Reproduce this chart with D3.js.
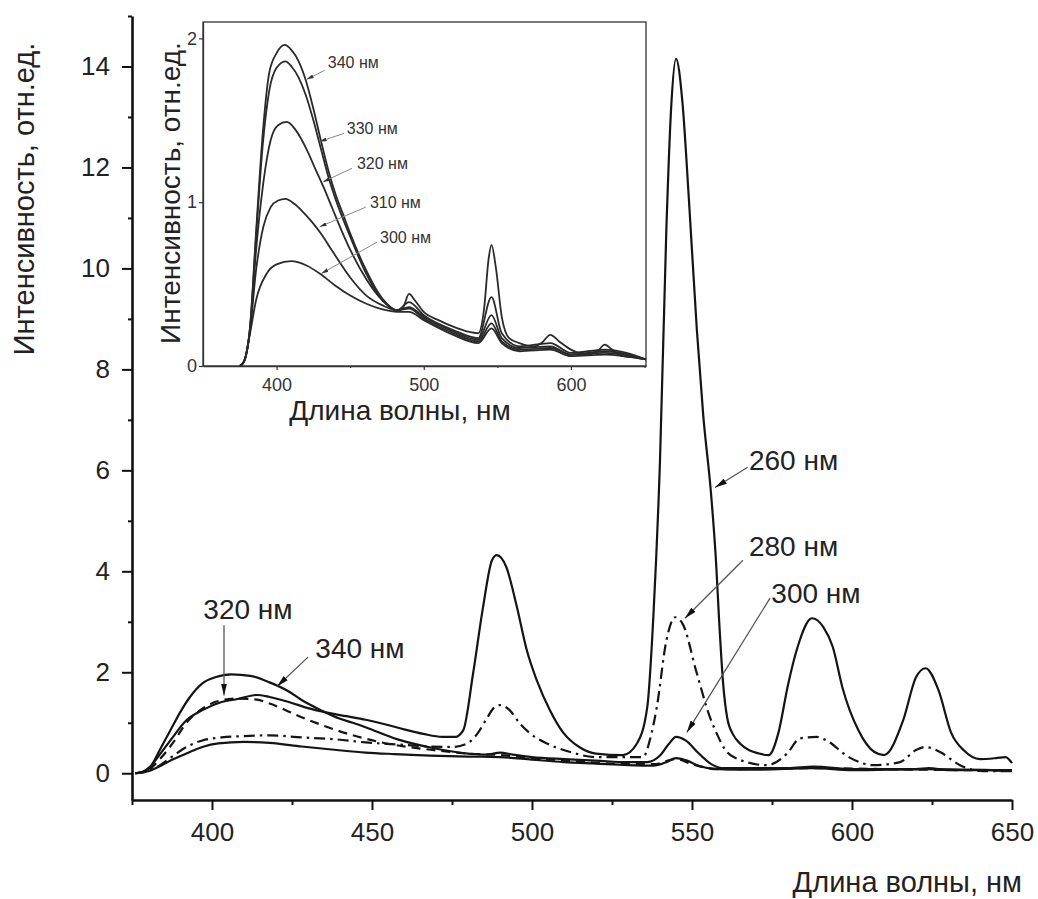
<!DOCTYPE html>
<html>
<head>
<meta charset="utf-8">
<script src="https://cdn.jsdelivr.net/npm/d3@7"></script>
<style>
  body { margin: 0; background: #fff; }
  text { font-family: "Liberation Sans", Arial, Helvetica, sans-serif; }
</style>
</head>
<body>
<div id="vis"></div>
<script>
// main plot: emission spectra, excitation 260..340 nm
var main260 = [[376,0],[378,0.02],[381,0.15],[384,0.4],[387,0.65],[392,1.05],[397,1.25],[403,1.41],[408,1.47],[414,1.55],[418,1.51],[424,1.41],[430,1.29],[436,1.2],[442,1.13],[448,1.06],[454,0.97],[460,0.87],[466,0.78],[472,0.72],[476,0.72],[478.5,0.85],[481.6,1.98],[484.7,3.29],[487.5,4.22],[489,4.32],[492,4.08],[495.3,3.29],[498.4,2.43],[501.5,1.84],[505.6,1.25],[509.7,0.81],[515,0.51],[520,0.39],[528.4,0.36],[532.8,0.59],[536,1.3],[538,3.2],[540,6.2],[542,10.8],[543.5,13.2],[545,14.15],[547,13.3],[549,11.4],[551.5,8.8],[553.5,7.1],[556,5.5],[557.5,4.2],[558.5,3.0],[559.7,1.8],[561,1.1],[563,0.75],[565,0.59],[571,0.39],[574,0.36],[577,0.8],[580,1.75],[583,2.5],[587.5,3.07],[591,2.9],[594,2.5],[597,1.7],[602,0.85],[607,0.42],[610,0.36],[616,1.05],[620,1.9],[623,2.08],[627,1.65],[631,0.8],[635,0.45],[640,0.28],[645,0.3],[648,0.32],[650,0.2]];
var main280 = [[376,0],[380,0.04],[384,0.17],[388,0.35],[392,0.52],[397,0.65],[403,0.71],[408,0.73],[418,0.75],[428,0.71],[439,0.67],[448,0.61],[458,0.57],[468,0.53],[475,0.52],[480,0.6],[483,0.79],[486,1.1],[488,1.29],[490,1.35],[493,1.25],[496,1.0],[499.4,0.79],[504.7,0.59],[512,0.42],[520,0.32],[534.7,0.32],[537,0.7],[539,1.31],[542,2.63],[544.7,3.09],[547,2.97],[551.5,1.98],[555.6,1.11],[558,0.75],[560,0.5],[563,0.32],[573.4,0.16],[579.7,0.39],[583.75,0.69],[589,0.72],[592,0.65],[599,0.32],[606.6,0.16],[615,0.22],[620,0.46],[623,0.52],[627.5,0.42],[633.75,0.16],[641,0.04],[650,0.04]];
var main300 = [[376,0],[380,0.04],[384,0.15],[388,0.28],[392,0.39],[397,0.52],[402,0.59],[410,0.62],[418,0.6],[428,0.53],[439,0.46],[448,0.41],[457,0.38],[468,0.35],[480,0.33],[490,0.32],[500,0.27],[510,0.22],[520,0.19],[530,0.16],[538,0.15],[542,0.22],[545,0.3],[548,0.26],[552,0.15],[558,0.08],[570,0.07],[588,0.1],[600,0.06],[623,0.08],[650,0.05]];
var main320 = [[376,0],[380,0.06],[384,0.3],[388,0.62],[392,1.0],[397,1.28],[402,1.43],[408,1.48],[414,1.46],[418,1.38],[428,1.11],[439,0.85],[447,0.7],[453,0.61],[469,0.46],[480,0.39],[490,0.36],[500,0.3],[515,0.23],[530,0.18],[538,0.18],[545,0.28],[550,0.18],[558,0.08],[588,0.1],[623,0.07],[650,0.05]];
var main340 = [[376,0],[378,0.02],[381,0.15],[384,0.5],[387,0.85],[390,1.2],[393,1.5],[397,1.78],[401,1.9],[406,1.96],[412,1.93],[418,1.8],[424,1.62],[428,1.45],[434,1.25],[440,1.08],[444,1.0],[448,0.91],[458,0.67],[469,0.5],[480,0.39],[486,0.37],[490,0.41],[494,0.37],[500,0.32],[510,0.28],[520,0.25],[530,0.22],[536,0.22],[540,0.35],[543,0.6],[545,0.72],[548,0.65],[552,0.4],[556,0.18],[560,0.1],[580,0.1],[588,0.13],[600,0.08],[620,0.08],[624,0.1],[630,0.06],[650,0.06]];

// inset: excitation 300..340 nm
var ins300 = [[375,0],[378,0.03],[382,0.2],[386,0.4],[393,0.56],[400,0.62],[410,0.64],[420,0.615],[430,0.56],[440,0.49],[450,0.43],[461,0.38],[472,0.345],[482,0.33],[490,0.33],[500,0.28],[520,0.19],[537,0.14],[546,0.23],[553,0.14],[565,0.09],[586,0.1],[600,0.06],[623,0.07],[651,0.04]];
var ins310 = [[375,0],[378,0.03],[382,0.22],[386,0.58],[391,0.85],[396,0.97],[401,1.01],[406,1.02],[412,0.99],[418,0.94],[424,0.88],[430,0.81],[438,0.7],[450,0.54],[461,0.43],[472,0.37],[482,0.34],[490,0.35],[500,0.29],[520,0.2],[537,0.15],[546,0.26],[553,0.15],[565,0.1],[586,0.11],[600,0.07],[623,0.08],[651,0.04]];
var ins320 = [[375,0],[378,0.03],[382,0.23],[386,0.7],[391,1.12],[396,1.38],[401,1.47],[407,1.49],[413,1.44],[420,1.33],[426,1.21],[432,1.09],[438,0.96],[444,0.83],[450,0.71],[461,0.53],[472,0.4],[482,0.34],[490,0.36],[500,0.3],[520,0.21],[537,0.16],[546,0.31],[553,0.17],[565,0.11],[586,0.12],[600,0.07],[623,0.09],[651,0.04]];
var ins330 = [[375,0],[378,0.03],[382,0.24],[386,0.78],[390.6,1.35],[395,1.68],[400,1.82],[406,1.86],[410,1.83],[415,1.76],[420,1.65],[425,1.5],[430,1.33],[435,1.16],[440,1.02],[450,0.79],[460,0.58],[472,0.4],[482,0.34],[490,0.39],[500,0.31],[520,0.22],[537,0.17],[546,0.42],[553,0.2],[565,0.12],[586,0.14],[600,0.08],[623,0.1],[651,0.04]];
var ins340 = [[375,0],[378,0.03],[382,0.24],[386,0.81],[390.6,1.42],[395,1.79],[400,1.91],[405.5,1.96],[410,1.93],[415,1.86],[420,1.74],[425,1.57],[430,1.38],[435,1.2],[440,1.05],[445,0.93],[450,0.81],[460,0.6],[472,0.41],[482,0.34],[486,0.36],[490,0.44],[494,0.4],[500,0.33],[510,0.28],[520,0.24],[530,0.21],[537,0.2],[541,0.35],[544,0.65],[546,0.74],[549,0.6],[553,0.3],[558,0.17],[565,0.14],[575,0.12],[580,0.14],[586,0.19],[592,0.15],[600,0.1],[611,0.07],[618,0.09],[623,0.13],[628,0.1],[635,0.06],[645,0.05],[651,0.04]];

var xMajor = [400, 450, 500, 550, 600, 650];
var xMinor = [375, 425, 475, 525, 575, 625];
var yMajor = [0, 2, 4, 6, 8, 10, 12, 14];
var yMinor = [1, 3, 5, 7, 9, 11, 13, 15];
var insXMajor = [400, 500, 600];
var insXMinor = [450, 550, 650];
var insYMajor = [0, 1, 2];

var W = 1038, H = 899;
var svg = d3.select("#vis").append("svg")
    .attr("width", W)
    .attr("height", H);

var defs = svg.append("defs");
defs.append("marker")
    .attr("id", "arrowMain")
    .attr("viewBox", "0 0 12 6")
    .attr("refX", 12).attr("refY", 3)
    .attr("markerWidth", 12).attr("markerHeight", 6)
    .attr("markerUnits", "userSpaceOnUse")
    .attr("orient", "auto")
  .append("path").attr("d", "M0,0L12,3L0,6Z").attr("fill", "#111");
defs.append("marker")
    .attr("id", "arrowInset")
    .attr("viewBox", "0 0 7 4")
    .attr("refX", 7).attr("refY", 2)
    .attr("markerWidth", 7).attr("markerHeight", 4)
    .attr("markerUnits", "userSpaceOnUse")
    .attr("orient", "auto")
  .append("path").attr("d", "M0,0L7,2L0,4Z").attr("fill", "#333");

// ---- main chart
var x = d3.scaleLinear().domain([375, 650]).range([132, 1012]);
var y = d3.scaleLinear().domain([-0.53, 15]).range([800, 16]);

var line = d3.line()
    .curve(d3.curveMonotoneX)
    .x(function(d) { return x(d[0]); })
    .y(function(d) { return y(d[1]); });

var series = [
  {id: "300", values: main300, dash: null},
  {id: "320", values: main320, dash: "9,6"},
  {id: "280", values: main280, dash: "11,5,2.5,5"},
  {id: "340", values: main340, dash: null},
  {id: "260", values: main260, dash: null}
];

svg.append("g").selectAll("path")
    .data(series)
    .enter().append("path")
    .attr("d", function(d) { return line(d.values); })
    .attr("fill", "none")
    .attr("stroke", "#141414")
    .attr("stroke-width", 2.2)
    .attr("stroke-linejoin", "round")
    .attr("stroke-dasharray", function(d) { return d.dash; });

// axes
var xAxis = svg.append("g")
    .attr("transform", "translate(0," + y.range()[0] + ")")
    .call(d3.axisBottom(x).tickValues(xMajor).tickSize(10).tickSizeOuter(0).tickPadding(13));
svg.append("g")
    .attr("transform", "translate(0," + y.range()[0] + ")")
    .call(d3.axisBottom(x).tickValues(xMinor).tickSize(5).tickSizeOuter(0).tickFormat(""))
    .select(".domain").remove();
var yAxis = svg.append("g")
    .attr("transform", "translate(" + x.range()[0] + ",0)")
    .call(d3.axisLeft(y).tickValues(yMajor).tickSize(10).tickSizeOuter(0).tickPadding(12));
svg.append("g")
    .attr("transform", "translate(" + x.range()[0] + ",0)")
    .call(d3.axisLeft(y).tickValues(yMinor).tickSize(4).tickSizeOuter(0).tickFormat(""))
    .select(".domain").remove();

svg.selectAll(".domain").attr("stroke", "#111").attr("stroke-width", 2.6);
svg.selectAll(".tick line").attr("stroke", "#111").attr("stroke-width", 2);
xAxis.selectAll(".tick text").attr("font-size", 26).attr("fill", "#222");
yAxis.selectAll(".tick text").attr("font-size", 26).attr("fill", "#222");

svg.append("text")
    .attr("x", 1022).attr("y", 892)
    .attr("text-anchor", "end")
    .attr("font-size", 29).attr("fill", "#222")
    .text("Длина волны, нм");
svg.append("text")
    .attr("transform", "translate(34,199) rotate(-90)")
    .attr("text-anchor", "middle")
    .attr("font-size", 29).attr("fill", "#222")
    .text("Интенсивность, отн.ед.");

// labels with arrows, positions in data units
var mainNotes = [
  {t: "260 нм", tx: 567.8, ty: 6.0, x1: 567.4, y1: 6.06, x2: 557.2, y2: 5.66},
  {t: "280 нм", tx: 567.8, ty: 4.3, x1: 565.9, y1: 4.22, x2: 547.8, y2: 3.07},
  {t: "300 нм", tx: 574.8, ty: 3.38, x1: 574.4, y1: 3.47, x2: 548.4, y2: 0.81},
  {t: "320 нм", tx: 397.3, ty: 3.05, x1: 403.75, y1: 2.93, x2: 403.75, y2: 1.54},
  {t: "340 нм", tx: 432.3, ty: 2.28, x1: 430, y1: 2.3, x2: 420.3, y2: 1.72}
];
var note = svg.append("g").selectAll("g").data(mainNotes).enter().append("g");
note.append("line")
    .attr("x1", function(d) { return x(d.x1); })
    .attr("y1", function(d) { return y(d.y1); })
    .attr("x2", function(d) { return x(d.x2); })
    .attr("y2", function(d) { return y(d.y2); })
    .attr("stroke", "#555").attr("stroke-width", 1.3)
    .attr("marker-end", "url(#arrowMain)");
note.append("text")
    .attr("x", function(d) { return x(d.tx); })
    .attr("y", function(d) { return y(d.ty); })
    .attr("font-size", 28).attr("fill", "#222")
    .text(function(d) { return d.t; });

// ---- inset
var xi = d3.scaleLinear().domain([350, 651]).range([203, 646]);
var yi = d3.scaleLinear().domain([0, 2.1]).range([366, 22]);
var inset = svg.append("g");

inset.append("rect")
    .attr("x", xi.range()[0]).attr("y", yi.range()[1])
    .attr("width", xi.range()[1] - xi.range()[0])
    .attr("height", yi.range()[0] - yi.range()[1])
    .attr("fill", "#fff").attr("stroke", "#333").attr("stroke-width", 1.3);

var lineI = d3.line()
    .curve(d3.curveMonotoneX)
    .x(function(d) { return xi(d[0]); })
    .y(function(d) { return yi(d[1]); });

inset.append("g").selectAll("path")
    .data([ins300, ins310, ins320, ins330, ins340])
    .enter().append("path")
    .attr("d", function(d) { return lineI(d); })
    .attr("fill", "none")
    .attr("stroke", "#2a2a2a")
    .attr("stroke-width", 1.8);

var ixAxis = inset.append("g")
    .attr("transform", "translate(0," + yi.range()[0] + ")")
    .call(d3.axisBottom(xi).tickValues(insXMajor).tickSize(4).tickSizeOuter(0).tickPadding(8));
inset.append("g")
    .attr("transform", "translate(0," + yi.range()[0] + ")")
    .call(d3.axisBottom(xi).tickValues(insXMinor).tickSize(2).tickSizeOuter(0).tickFormat(""))
    .select(".domain").remove();
var iyAxis = inset.append("g")
    .attr("transform", "translate(" + xi.range()[0] + ",0)")
    .call(d3.axisLeft(yi).tickValues(insYMajor).tickSize(4).tickSizeOuter(0).tickPadding(2)
      .tickFormat(d3.format("d")));
inset.selectAll(".domain").attr("stroke", "#333").attr("stroke-width", 1.3);
inset.selectAll(".tick line").attr("stroke", "#333").attr("stroke-width", 1.2);
inset.selectAll(".tick text").attr("font-size", 18).attr("fill", "#333");

inset.append("text")
    .attr("x", 400).attr("y", 420)
    .attr("text-anchor", "middle")
    .attr("font-size", 28).attr("fill", "#222")
    .text("Длина волны, нм");
inset.append("text")
    .attr("transform", "translate(180,193) rotate(-90)")
    .attr("text-anchor", "middle")
    .attr("font-size", 28).attr("fill", "#222")
    .text("Интенсивность, отн.ед.");

var insetNotes = [
  {t: "340 нм", tx: 434.8, ty: 1.817, x1: 432.7, y1: 1.805, x2: 420.5, y2: 1.75},
  {t: "330 нм", tx: 447.7, ty: 1.415, x1: 445.7, y1: 1.42, x2: 429.3, y2: 1.37},
  {t: "320 нм", tx: 454.6, ty: 1.20, x1: 451.2, y1: 1.207, x2: 431.6, y2: 1.124},
  {t: "310 нм", tx: 463.4, ty: 0.963, x1: 460.7, y1: 0.97, x2: 429.3, y2: 0.85},
  {t: "300 нм", tx: 470.3, ty: 0.75, x1: 468.2, y1: 0.756, x2: 430.5, y2: 0.565}
];
var inote = inset.append("g").selectAll("g").data(insetNotes).enter().append("g");
inote.append("line")
    .attr("x1", function(d) { return xi(d.x1); })
    .attr("y1", function(d) { return yi(d.y1); })
    .attr("x2", function(d) { return xi(d.x2); })
    .attr("y2", function(d) { return yi(d.y2); })
    .attr("stroke", "#888").attr("stroke-width", 1)
    .attr("marker-end", "url(#arrowInset)");
inote.append("text")
    .attr("x", function(d) { return xi(d.tx); })
    .attr("y", function(d) { return yi(d.ty); })
    .attr("font-size", 16).attr("fill", "#333")
    .text(function(d) { return d.t; });
</script>
</body>
</html>
